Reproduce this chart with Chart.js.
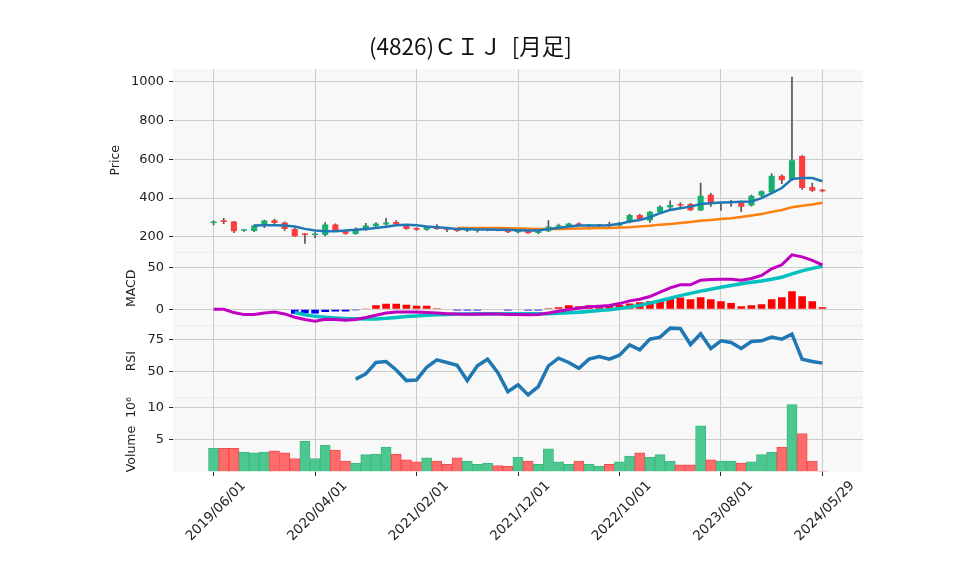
<!DOCTYPE html>
<html>
<head>
<meta charset="utf-8">
<title>(4826)ＣＩＪ [月足]</title>
<script src="https://cdn.jsdelivr.net/npm/chart.js@4.4.1/dist/chart.umd.min.js"></script>
<style>
  html, body { margin:0; padding:0; background:#fff; }
  #wrap { width:958px; height:575px; }
</style>
</head>
<body>
<div id="wrap"><canvas id="chartMonthly" width="958" height="575"></canvas></div>
<script>
// ══════════════════════════════════════════════════════
//  DATA — monthly bars, index 0 = 2019/06 ... 60 = 2024/05/29
// ══════════════════════════════════════════════════════
var tickIdx    = [0, 10, 20, 30, 40, 50, 60];
var tickLabels = ['2019/06/01','2020/04/01','2021/02/01','2021/12/01','2022/10/01','2023/08/01','2024/05/29'];

var opens  = [271,285,279,231,230,259,286,274,240,213,209,209,264,229,214,240,255,264,276,256,
              246,236,255,242,240,231,233,235,237,236,224,234,220,229,252,256,269,256,257,262,
              259,278,313,284,327,352,370,370,336,417,372,376,379,362,414,430,516,496,617,457,443];
var highs  = [283,296,280,236,262,286,292,278,246,218,222,274,267,232,246,270,274,295,284,258,
              248,255,263,245,242,242,241,240,240,238,238,236,232,284,266,271,272,262,263,276,
              275,316,316,332,360,386,375,373,478,425,378,388,385,416,438,527,520,1025,620,478,446];
var lows   = [262,268,221,228,226,247,265,233,202,166,196,205,228,213,212,233,250,260,258,238,
              233,233,238,226,228,226,224,230,230,222,220,217,216,226,249,253,256,240,250,252,
              255,272,285,275,322,345,348,335,335,357,336,357,330,358,408,428,475,490,445,435,432];
var closes = [279,276,229,234,259,284,272,240,203,210,213,264,229,216,241,259,269,274,264,240,
              236,253,241,237,230,239,236,238,234,224,236,219,229,253,258,269,259,259,260,259,
              272,313,292,330,356,365,362,337,412,370,376,379,356,412,435,516,492,595,452,438,435];

var ma5  = [null,null,null,null,259,260,260,259,253,241,233,229,229,233,236,241,246,252,260,262,
            260,253,250,245,241,240,238,238,236,236,234,233,233,240,246,253,259,259,259,260,
            267,279,287,301,322,339,348,356,370,374,377,379,381,383,400,426,452,499,504,504,487];
var ma25 = [null,null,null,null,null,null,null,null,null,null,null,null,null,null,null,null,null,null,null,null,
            null,null,null,null,246,246,246,245,245,244,243,242,241,240,241,242,243,244,245,246,
            248,250,254,257,263,266,271,277,283,287,292,296,303,310,318,329,339,353,360,367,376];

// volume in millions, volUp = close above previous close (1) or not (0)
var volumes = [3.6,3.6,3.6,3.0,2.9,3.0,3.2,2.9,2.0,4.7,2.0,4.1,3.3,1.6,1.3,2.6,2.7,3.8,2.7,1.8,
               1.5,2.1,1.6,1.1,2.1,1.6,1.1,1.3,0.9,0.8,2.2,1.6,1.1,3.5,1.5,1.1,1.6,1.1,0.8,1.1,
               1.5,2.4,2.9,2.2,2.6,1.6,1.0,1.0,7.1,1.8,1.6,1.6,1.3,1.5,2.6,3.0,3.8,10.4,5.9,1.6,0.05];
var volUp   = [1,0,0,1,1,1,0,0,0,1,1,1,0,0,1,1,1,1,0,0,
               0,1,0,0,0,1,1,1,0,0,1,0,1,1,1,1,0,1,1,0,
               1,1,0,1,1,1,0,0,1,0,1,1,0,1,1,1,0,1,0,0,0];

var macd   = [0,0,-4,-6.4,-6.4,-4.4,-3.2,-5.6,-9.5,-12.3,-14.3,-11.9,-12.3,-13.1,-12.3,-9.9,-7.1,-4.4,-3.2,-3.2,
              -3.2,-3.8,-4.6,-5.3,-5.8,-6.0,-6.0,-5.8,-5.8,-6.2,-6.4,-6.7,-6.4,-4.4,-2.4,-0.4,1.2,2.8,3.6,4.4,
              6.7,9.9,11.9,15.1,20.2,25.4,29,29,34.5,35.3,35.7,35.7,34.5,36.5,40.1,48,52.8,64.7,62.3,58,52.8];
var signal = [null,null,null,null,null,null,null,null,-4,-6.5,-8.5,-9.5,-10.3,-11,-11.3,-11.5,-11.5,-10.8,-9.8,-8.8,
              -8,-7.3,-6.6,-6.2,-5.8,-5.6,-5.4,-5.3,-5.3,-5.3,-5.4,-5.5,-5.5,-5.3,-4.8,-4.2,-3.5,-2.6,-1.6,-0.6,
              0.8,2.6,4.6,7.2,10,13,16.2,18.8,21.5,23.8,26.2,28.3,30.4,32,33.6,35.6,38,42,45.6,48.6,51.2];
var hist   = [null,null,null,null,null,null,null,null,-5.5,-4.8,-5.2,-3.2,-2.8,-2.8,-1.2,0.8,4.8,6.4,6.4,5.2,
              4,4,1.2,0,-1.5,-1.5,-1.5,0,0,-1.5,0,-1.5,-1.5,1.2,2.4,4.8,3.6,4.8,4.8,4.8,
              5.2,6.7,8.3,9.5,10.7,13.5,13.9,11.9,14.3,11.9,9.5,7.5,3.6,4.8,6,11.9,14.3,21.4,15.5,9.5,2.4];

var rsi = [null,null,null,null,null,null,null,null,null,null,null,null,null,null,43.8,47.9,56.8,57.6,51,42.7,
           43.2,53.1,58.9,56.8,54.7,42.7,54.2,59.4,49,34.1,39.5,31.5,38,54.2,60.2,56.8,52.3,59.4,61.5,59.4,
           62.5,70.6,66.7,75,76.6,83.6,83.3,70.8,79.2,67.7,73.7,72.4,67.7,73.2,73.7,76.6,75,78.9,59.4,57.6,56.3];

// ── STYLE ─────────────────────────────────────────────
var FONT  = '"DejaVu Sans", sans-serif';
var JFONT = '"Noto Sans CJK JP", "DejaVu Sans", sans-serif';
var UP = '#17b06e', DOWN = '#ff3c3c', WICK = '#555555';
var GRID = '#cccccc', TEXT = '#222222';

function pts(arr){ return arr.map(function(v, i){ return {x:i, y:v}; }); }

var bodyColors = opens.map(function(o, i){ return closes[i] >= o ? UP : DOWN; });
var volFill    = volUp.map(function(u){ return u ? '#4cc78f' : '#ff6b6b'; });
var volBorder  = volUp.map(function(u){ return u ? '#3db980' : '#f24c4c'; });
var histColors = hist.map(function(v){ return v >= 0 ? '#ff0000' : '#0000ff'; });

function yAxis(min, max, ticks, title, titlePad, weight){
  return {
    type:'linear', position:'left', stack:'panels', stackWeight:weight,
    min:min, max:max,
    afterBuildTicks:function(ax){ ax.ticks = ticks.map(function(v){ return {value:v}; }); },
    afterFit:function(ax){ ax.width = 80; },
    grid:{ color:GRID, tickColor:TEXT, tickLength:4, lineWidth:1 },
    border:{ display:false },
    ticks:{ color:TEXT, padding:5, font:{family:FONT, size:13}, callback:function(v){ return String(v); } },
    title:{ display:true, text:title, color:TEXT, font:{family:FONT, size:12.5}, padding:{top:titlePad, bottom:0} }
  };
}

// plot background + faint separators between panels
var panelBg = {
  id:'panelBg',
  beforeDraw:function(chart){
    var a = chart.chartArea, ctx = chart.ctx;
    ctx.save();
    ctx.fillStyle = '#f8f8f8';
    ctx.fillRect(a.left, a.top, a.right - a.left, a.bottom - a.top);
    ctx.strokeStyle = '#ededed'; ctx.lineWidth = 1;
    ['yMacd','yRsi','yVol'].forEach(function(id){
      var s = chart.scales[id];
      ctx.beginPath(); ctx.moveTo(a.left, Math.round(s.top) + 0.5); ctx.lineTo(a.right, Math.round(s.top) + 0.5); ctx.stroke();
    });
    ctx.restore();
  }
};

new Chart(document.getElementById('chartMonthly'), {
  type:'bar',
  data:{ datasets:[
    { type:'line', data:pts(ma5),  yAxisID:'yPrice', borderColor:'#1f77b4', borderWidth:2.5, pointRadius:0, order:0 },
    { type:'line', data:pts(ma25), yAxisID:'yPrice', borderColor:'#ff7f0e', borderWidth:2.5, pointRadius:0, order:0 },
    { data:opens.map(function(o, i){ return {x:i, y:[o, closes[i]]}; }), yAxisID:'yPrice',
      backgroundColor:bodyColors, grouped:false, barPercentage:0.6, categoryPercentage:1, minBarLength:1.5, order:1 },
    { data:lows.map(function(l, i){ return {x:i, y:[l, highs[i]]}; }), yAxisID:'yPrice',
      backgroundColor:WICK, grouped:false, barThickness:1, order:2 },

    { type:'line', data:pts(macd),   yAxisID:'yMacd', borderColor:'#c000c0', borderWidth:3,   pointRadius:0, order:0 },
    { type:'line', data:pts(signal), yAxisID:'yMacd', borderColor:'#00c0c0', borderWidth:3.5, pointRadius:0, order:0 },
    { data:pts(hist), yAxisID:'yMacd', backgroundColor:histColors, grouped:false, barPercentage:0.75, categoryPercentage:1, order:1 },

    { type:'line', data:pts(rsi), yAxisID:'yRsi', borderColor:'#1f77b4', borderWidth:3.5, pointRadius:0, order:0 },

    { data:pts(volumes), yAxisID:'yVol', backgroundColor:volFill, borderColor:volBorder, borderWidth:1,
      grouped:false, barPercentage:1, categoryPercentage:1, order:1 }
  ]},
  options:{
    responsive:false, animation:false,
    layout:{ padding:{ left:93, right:95, top:0, bottom:23 } },
    plugins:{
      legend:{ display:false },
      tooltip:{ enabled:false },
      title:{ display:true, text:'(4826)ＣＩＪ  [月足]   ', color:'#111', font:{family:JFONT, size:22.5, weight:'normal'},
              padding:{ top:32.5, bottom:9.5 } }
    },
    scales:{
      x:{
        type:'linear', min:-4, max:64, offset:false,
        afterBuildTicks:function(ax){ ax.ticks = tickIdx.map(function(v){ return {value:v}; }); },
        afterFit:function(ax){ ax.height = 80; },
        grid:{ color:GRID, tickColor:TEXT, tickLength:4, offset:false },
        border:{ display:false },
        ticks:{ color:TEXT, minRotation:45, maxRotation:45, labelOffset:30, padding:2, font:{family:FONT, size:13.5},
                callback:function(v){ var k = tickIdx.indexOf(v); return k < 0 ? '' : tickLabels[k]; } }
      },
      yVol:   yAxis(-0.1, 11.56, [5, 10], 'Volume  10⁶', 31, 74.7),
      yRsi:   yAxis(29.7, 85.9, [50, 75], 'RSI', 31, 72),
      yMacd:  yAxis(-19, 68.6, [0, 50], 'MACD', 31, 73.6),
      yPrice: yAxis(124, 1067, [200, 400, 600, 800, 1000], 'Price', 15, 182.4)
    }
  },
  plugins:[panelBg]
});
</script>
</body>
</html>
